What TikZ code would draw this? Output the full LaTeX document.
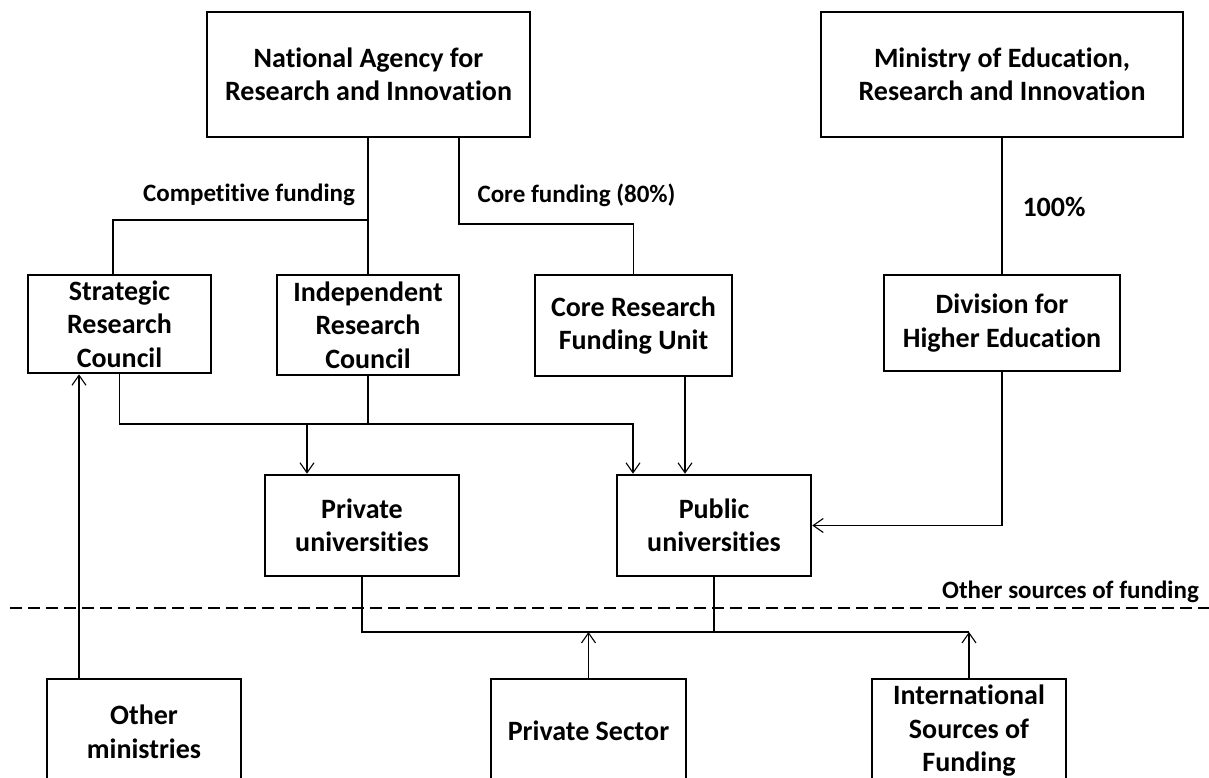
\documentclass[tikz,border=0pt]{standalone}
\usepackage{fontspec}
\setmainfont{Carlito}[Ligatures=NoCommon]
\usetikzlibrary{arrows.meta,calc}
\tikzset{
  box/.style={draw=black, line width=2.6pt, inner sep=0pt, align=center,
    font=\fontsize{28}{33.5}\selectfont\bfseries},
  lbl/.style={inner sep=0pt, anchor=base, font=\fontsize{25}{30}\selectfont\bfseries},
  conn/.style={line width=1.3pt},
  arr/.style={conn, -{Straight Barb[length=10pt,width=14pt,line width=1.1pt]}},
  sep/.style={line width=1.3pt, dash pattern=on 12pt off 6pt}
}
\begin{document}
\begin{tikzpicture}[x=1pt,y=-1pt]
\useasboundingbox (0,0) rectangle (1209,778);
\clip (0,0) rectangle (1209,778);
\fill[white] (0,0) rectangle (1209,778);
% helper levels
\coordinate (y220) at (0,220);
\coordinate (y224) at (0,224);
\coordinate (y424) at (0,424);
\coordinate (y632) at (0,632);
% boxes
\node[box, minimum width=323pt, minimum height=125pt] (nari) at (368.5,74.5) {National Agency for\\Research and Innovation};
\node[box, minimum width=362pt, minimum height=125pt] (mini) at (1002,74.5) {Ministry of Education,\\Research and Innovation};
\node[box, minimum width=183pt, minimum height=98pt] (strat) at (119.5,324) {Strategic\\Research\\Council};
\node[box, minimum width=182pt, minimum height=100pt] (indep) at (368,325) {Independent\\Research\\Council};
\node[box, minimum width=197pt, minimum height=101pt] (core) at (633.5,325.5) {Core Research\\Funding Unit};
\node[box, minimum width=236pt, minimum height=96pt] (div) at (1002,323) {Division for\\Higher Education};
\node[box, minimum width=194pt, minimum height=101pt] (priv) at (362,525.5) {Private\\universities};
\node[box, minimum width=194pt, minimum height=101pt] (pub) at (714,525.5) {Public\\universities};
\node[box, minimum width=194pt, minimum height=106pt] (om) at (144,732) {Other\\ministries};
\node[box, minimum width=195pt, minimum height=104pt] (ps) at (588.5,731) {Private Sector};
\node[box, minimum width=194pt, minimum height=104pt] (intl) at (969,731) {International\\Sources of\\Funding};
% labels
\node[lbl] (lcomp) at (249,201) {Competitive funding};
\node[lbl] (lcore) at (576.5,203) {Core funding (80\%)};
\node[lbl, font=\fontsize{28}{33}\selectfont\bfseries] (l100) at (1054,216) {100\%};
\node[lbl] (lother) at (1070.5,598) {Other sources of funding};
% separator
\coordinate (dl) at (10,608);
\coordinate (dr) at (1209,608);
\draw[sep] (dl) -- (dr);
% connectors from the agency
\draw[conn] (nari.south -| indep.north) -- (indep.north);
\draw[conn] (indep.north |- y220) -| ([xshift=-6.5pt]strat.north);
\draw[conn] ([xshift=90.5pt]nari.south) |- (core.north |- y224) -- (core.north);
\draw[conn] (mini.south) -- (div.north);
% councils to universities
\draw[arr] (strat.south) |- ([xshift=-81pt]pub.north |- y424) -- ([xshift=-81pt]pub.north);
\draw[conn] (indep.south) -- (indep.south |- y424);
\draw[arr] ([xshift=-55pt]priv.north |- y424) -- ([xshift=-55pt]priv.north);
\draw[arr] ([xshift=-29pt]pub.north |- core.south) -- ([xshift=-29pt]pub.north);
\draw[arr] (div.south) |- (pub.east);
% other sources
\draw[conn] (priv.south) -- (priv.south |- y632) -- (intl.north |- y632);
\draw[conn] (pub.south) -- (pub.south |- y632);
\draw[arr] (ps.north) -- (ps.north |- y632);
\draw[arr] (intl.north) -- (intl.north |- y632);
\draw[arr] ([xshift=-65pt]om.north) -- ([xshift=-65pt]om.north |- strat.south);
\end{tikzpicture}
\end{document}
